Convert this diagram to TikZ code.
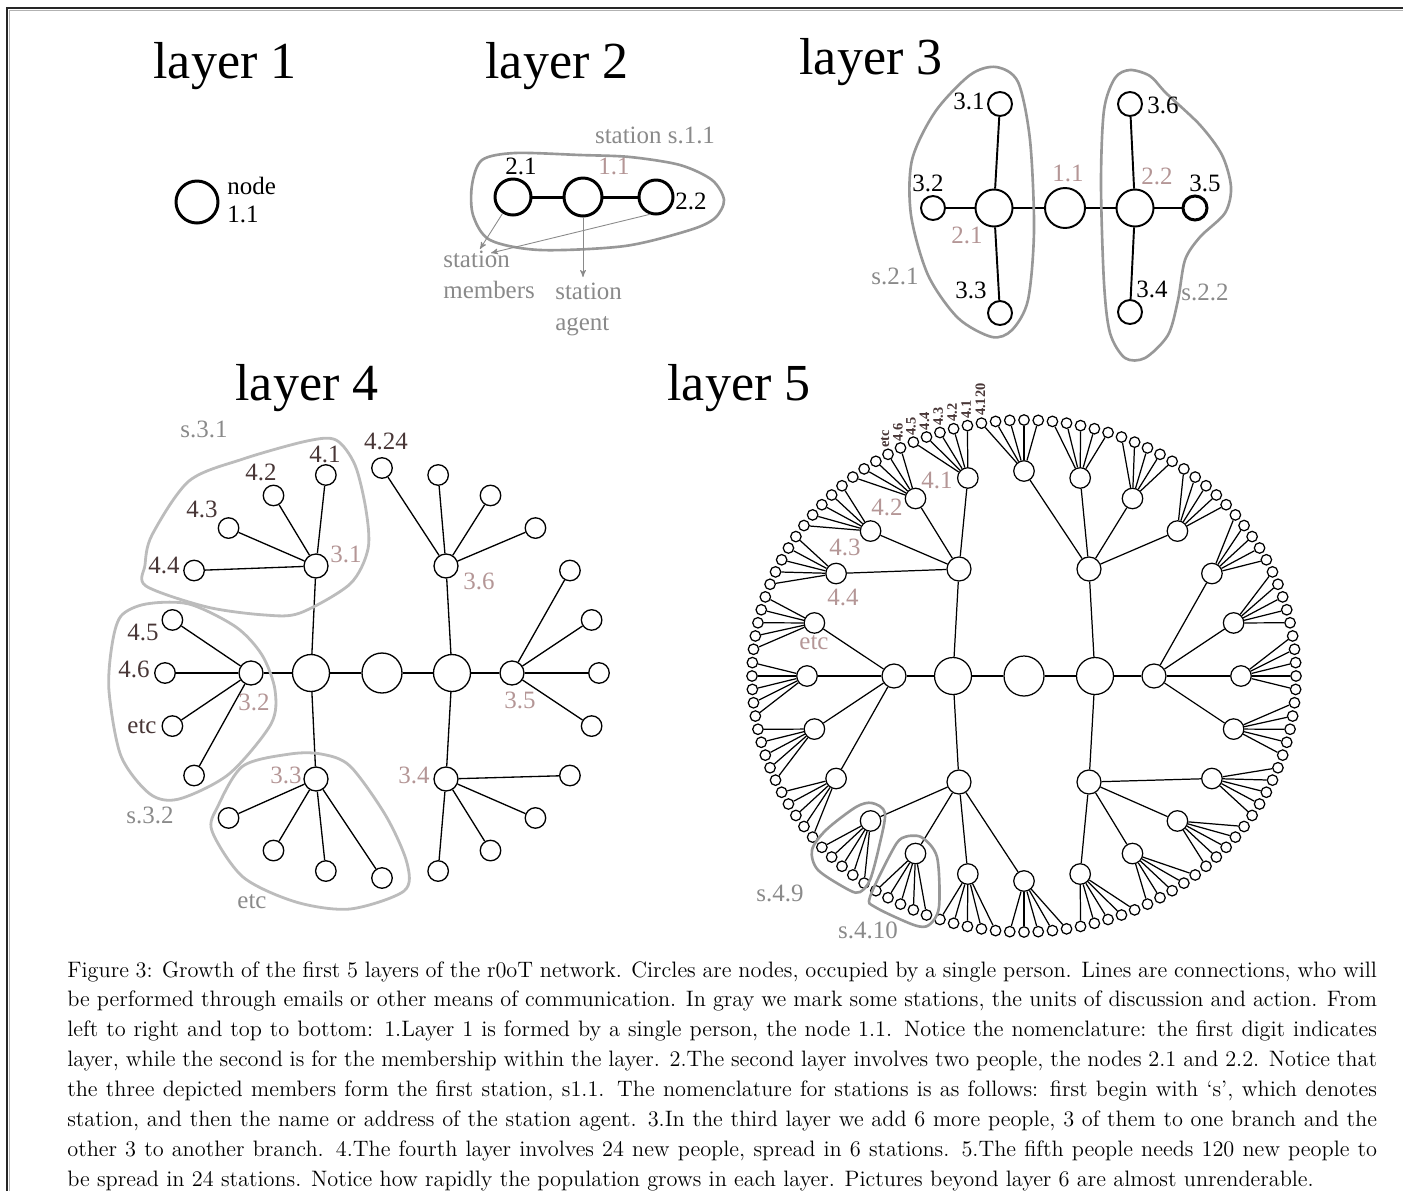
\documentclass[tikz,border=0pt]{standalone}
\usepackage{fontspec}
\newfontfamily\lblfont{Liberation Serif}
\usetikzlibrary{positioning}
\usetikzlibrary{arrows}
\definecolor{agentc}{RGB}{180,150,150}
\definecolor{memberc}{RGB}{72,54,54}
\definecolor{stationc}{RGB}{138,138,138}
\definecolor{blobc}{RGB}{152,152,152}
\definecolor{paleblob}{RGB}{188,188,188}
\tikzset{>=stealth'}
\tikzset{root/.style={draw,circle, minimum size=8mm, inner sep=0pt}}
\tikzset{branch/.style={draw,circle, minimum size=7.4mm, inner sep=0pt}}
\tikzset{twig/.style={draw,circle, minimum size=4.8mm, inner sep=0pt}}
\tikzset{leaf/.style={draw,circle, minimum size=4.1mm, inner sep=0pt}}
\tikzset{bud/.style={draw,circle, minimum size=2.1mm, inner sep=0pt}}
\tikzset{lbl/.style={font=\lblfont\fontsize{14.2}{17.6}\selectfont, inner sep=0pt}}
\tikzset{agentlbl/.style={lbl, text=agentc}}
\tikzset{memberlbl/.style={lbl, text=memberc}}
\tikzset{stationlbl/.style={lbl, text=stationc}}
\tikzset{tinylbl/.style={font=\lblfont\bfseries\fontsize{8.2}{9}\selectfont, text=memberc, inner sep=0.6pt, rotate=90, anchor=west}}
\tikzset{title/.style={font=\lblfont\fontsize{29.6}{34}\selectfont, anchor=base, inner sep=0pt}}
\tikzset{station/.style={draw=blobc, line width=1.5pt}}
\tikzset{palestation/.style={draw=paleblob, line width=1.6pt}}
\tikzset{pointer/.style={->, draw=stationc, line width=0.5pt}}

\begin{document}
\begin{tikzpicture}[x=0.02cm, y=-0.02cm]
    \useasboundingbox (0,0) rectangle (1403,1191);
    \draw[line width=0.8pt, black!30] (9.5,1191) -- (9.5,10.5) -- (1403,10.5);
    \draw[line width=1.1pt, black!85] (7,1191) -- (7,8) -- (1403,8);

    \node[title] at (225,78) {layer 1};
    \node[title] at (557,78) {layer 2};
    \node[title] at (871,74) {layer 3};
    \node[title] at (307,400) {layer 4};
    \node[title] at (739,400) {layer 5};

    % layer 1
    \node[root, minimum size=8.4mm, line width=1.7pt] (n11) at (197,202) {};
    \node[lbl, align=left, anchor=north west, font=\lblfont\fontsize{14.2}{16}\selectfont] at (227,177) {node\\1.1};

    % layer 2
    \begin{scope}[line width=1.7pt]
        \node[branch, minimum size=7.2mm] (s21) at (513,197) {};
        \node[branch, minimum size=7.6mm] (s11) at (583,197) {};
        \node[branch, minimum size=6.8mm] (s22) at (656,197) {};
        \draw (s21) -- (s11) -- (s22);
    \end{scope}
    \draw[station] plot[smooth cycle] coordinates {(472,185) (482,160) (515,153) (580,155) (630,157) (680,165) (712,180) (724,200) (715,218) (690,230) (625,246) (540,250) (490,240) (473,215)};
    \node[lbl] at (521,166) {2.1};
    \node[agentlbl] at (614,166) {1.1};
    \node[lbl] at (691,201) {2.2};
    \node[stationlbl] at (655,135) {station s.1.1};
    \node[stationlbl, align=left, anchor=north west] (members) at (443,251) {station\\members};
    \node[stationlbl, align=left, anchor=north west] (agent) at (555,283) {station\\agent};
    \coordinate (mtipA) at (480,249);
    \coordinate (mtipB) at (491,253);
    \coordinate (atip) at (583,277);
    \draw[pointer] (s21) -- (mtipA);
    \draw[pointer] (s22.250) -- (mtipB);
    \draw[pointer] (s11) -- (atip);

    % layer 3
    \begin{scope}[line width=1.1pt]
        \node[root] (t11) at (1065,208) {};
        \node[branch] (t21) at (994,208) {};
        \node[branch] (t22) at (1135,208) {};
        \node[twig] (t31) at (1000,104) {};
        \node[twig] (t32) at (933,208) {};
        \node[twig] (t33) at (1000,313) {};
        \node[twig] (t34) at (1130,312) {};
        \node[twig, line width=1.7pt] (t35) at (1195,208) {};
        \node[twig] (t36) at (1130,104) {};
        \draw (t32) -- (t21) -- (t11) -- (t22) -- (t35);
        \draw (t31) -- (t21) -- (t33);
        \draw (t36) -- (t22) -- (t34);
    \end{scope}
    \draw[station] plot[smooth cycle] coordinates {(996,67) (1018,82) (1030,140) (1034,230) (1028,300) (1012,330) (992,337) (958,318) (928,275) (911,215) (912,160) (935,112) (970,75)};
    \draw[station] plot[smooth cycle] coordinates {(1130,70) (1150,76) (1166,93) (1200,125) (1222,155) (1231,187) (1225,213) (1200,237) (1185,260) (1178,300) (1168,335) (1145,358) (1125,358) (1110,333) (1104,283) (1101,183) (1104,110) (1115,78)};
    \node[lbl] at (969,101) {3.1};
    \node[lbl] at (1163,105) {3.6};
    \node[lbl] at (928,183) {3.2};
    \node[lbl] at (1205,183) {3.5};
    \node[lbl] at (971,290) {3.3};
    \node[lbl] at (1152,289) {3.4};
    \node[agentlbl] at (1068,173) {1.1};
    \node[agentlbl] at (1157,176) {2.2};
    \node[agentlbl] at (967,235) {2.1};
    \node[stationlbl] at (895,276) {s.2.1};
    \node[stationlbl] at (1205,292) {s.2.2};

    % layer 4
    \begin{scope}[line width=0.75pt]
        \node[root] (f11) at (382,673) {};
        \node[branch] (f21) at (311,673) {};
        \node[branch] (f22) at (452,673) {};
        \node[twig] (d0) at (512,673) {};
        \node[twig] (d1) at (446,566) {};
        \node[twig] (d2) at (316,566) {};
        \node[twig] (d3) at (251,673) {};
        \node[twig] (d4) at (316,779) {};
        \node[twig] (d5) at (446,779) {};
        \draw (d3) -- (f21) -- (f11) -- (f22) -- (d0);
        \draw (d2) -- (f21) -- (d4);
        \draw (d1) -- (f22) -- (d5);
        \foreach \k in {0,...,23}{
            \pgfmathtruncatemacro{\g}{mod(div(\k+1,4),6)}
            \node[leaf] (e\k) at ({382+217*cos(15*\k)},{673-205*sin(15*\k)}) {};
            \draw (d\g) -- (e\k);
        }
    \end{scope}
    \draw[palestation] plot[smooth cycle] coordinates {(336,440) (355,465) (366,510) (368,549) (350,584) (300,613) (265,615) (207,607) (146,586) (145,565) (152,535) (189,481) (243,459) (307,441)};
    \draw[palestation] plot[smooth cycle] coordinates {(121,616) (146,604) (189,604) (236,627) (262,655) (275,690) (271,724) (229,774) (179,799) (150,794) (121,756) (109,691) (112,645)};
    \draw[palestation] plot[smooth cycle] coordinates {(218,806) (243,766) (290,754) (321,754) (350,766) (386,816) (407,863) (404,891) (350,909) (296,902) (243,877) (212,831)};
    \node[memberlbl] at (325,454) {4.1};
    \node[memberlbl] at (261,472) {4.2};
    \node[memberlbl] at (202,509) {4.3};
    \node[memberlbl] at (164,565) {4.4};
    \node[memberlbl] at (143,632) {4.5};
    \node[memberlbl] at (134,669) {4.6};
    \node[memberlbl] at (142,727) {etc};
    \node[memberlbl] at (386,441) {4.24};
    \node[agentlbl] at (346,554) {3.1};
    \node[agentlbl] at (479,581) {3.6};
    \node[agentlbl] at (254,702) {3.2};
    \node[agentlbl] at (520,700) {3.5};
    \node[agentlbl] at (286,775) {3.3};
    \node[agentlbl] at (414,775) {3.4};
    \node[stationlbl] at (204,429) {s.3.1};
    \node[stationlbl] at (150,815) {s.3.2};
    \node[stationlbl] at (252,902) {etc};

    % layer 5
    \begin{scope}[line width=0.7pt]
        \node[root] (v11) at (1024,676) {};
        \node[branch] (v21) at (953,676) {};
        \node[branch] (v22) at (1095,676) {};
        \node[twig] (p0) at (1154,676) {};
        \node[twig] (p1) at (1089,569) {};
        \node[twig] (p2) at (959,569) {};
        \node[twig] (p3) at (894,676) {};
        \node[twig] (p4) at (959,782) {};
        \node[twig] (p5) at (1089,782) {};
        \draw (p3) -- (v21) -- (v11) -- (v22) -- (p0);
        \draw (p2) -- (v21) -- (p4);
        \draw (p1) -- (v22) -- (p5);
        \foreach \k in {0,...,23}{
            \pgfmathtruncatemacro{\g}{mod(div(\k+1,4),6)}
            \node[leaf] (q\k) at ({1024+217*cos(15*\k)},{676-205*sin(15*\k)}) {};
            \draw (p\g) -- (q\k);
        }
        \foreach \m in {0,...,119}{
            \pgfmathtruncatemacro{\pk}{mod(div(\m+1,5),24)}
            \node[bud] (b\m) at ({1024+272*cos(3*\m)},{676-256*sin(3*\m)}) {};
            \draw (q\pk) -- (b\m);
        }
    \end{scope}
    \draw[station] plot[smooth cycle] coordinates {(872,803) (885,813) (879,847) (870,880) (860,892) (849,890) (818,870) (812,850) (826,830) (856,807)};
    \draw[station] plot[smooth cycle] coordinates {(902,838) (921,837) (937,857) (939,907) (929,925) (914,925) (875,907) (870,897) (891,853)};
    \node[tinylbl] at (b33.99) {4.120};
    \node[tinylbl] at (b34.102) {4.1};
    \node[tinylbl] at (b35.105) {4.2};
    \node[tinylbl] at (b36.108) {4.3};
    \node[tinylbl] at (b37.111) {4.4};
    \node[tinylbl] at (b38.114) {4.5};
    \node[tinylbl] at (b39.117) {4.6};
    \node[tinylbl] at (b40.120) {etc};
    \node[agentlbl] at (937,480) {4.1};
    \node[agentlbl] at (887,507) {4.2};
    \node[agentlbl] at (845,547) {4.3};
    \node[agentlbl] at (843,597) {4.4};
    \node[agentlbl] at (814,643) {etc};
    \node[stationlbl] at (780,893) {s.4.9};
    \node[stationlbl] at (868,930) {s.4.10};

    % caption
    \node[anchor=north west, inner sep=0pt, text width=26.2cm, align=justify,
          font=\fontsize{12.7}{17}\selectfont] (caption) at (67,961)
    {\tolerance=9999 \hyphenpenalty=10000 Figure 3: Growth of the first 5 layers of the r0oT network. Circles are nodes, occupied by a single person. Lines are connections, who will\linebreak
    be performed through emails or other means of communication. In gray we mark some stations, the units of discussion and action. From\linebreak
    left to right and top to bottom: 1.Layer 1 is formed by a single person, the node 1.1. Notice the nomenclature: the first digit indicates\linebreak
    layer, while the second is for the membership within the layer. 2.The second layer involves two people, the nodes 2.1 and 2.2. Notice that\linebreak
    the three depicted members form the first station, s1.1. The nomenclature for stations is as follows: first begin with `s', which denotes\linebreak
    station, and then the name or address of the station agent. 3.In the third layer we add 6 more people, 3 of them to one branch and the\linebreak
    other 3 to another branch. 4.The fourth layer involves 24 new people, spread in 6 stations. 5.The fifth people needs 120 new people to\linebreak
    be spread in 24 stations. Notice how rapidly the population grows in each layer. Pictures beyond layer 6 are almost unrenderable.};
\end{tikzpicture}
\end{document}
